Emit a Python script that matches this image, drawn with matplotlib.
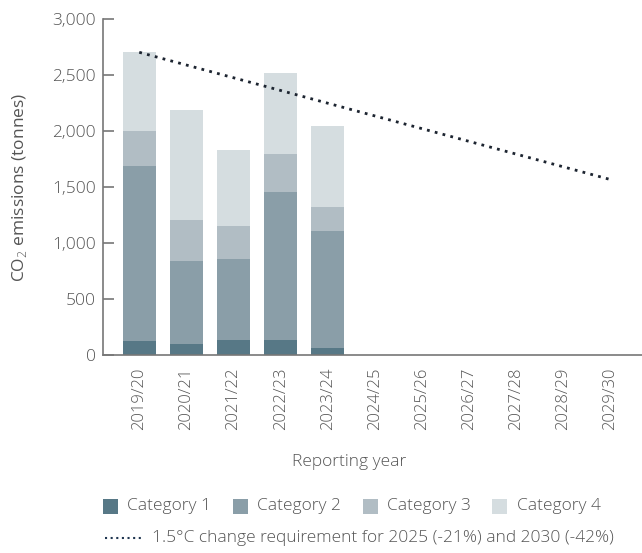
import matplotlib
matplotlib.use("Agg")
import matplotlib.pyplot as plt
from matplotlib.patches import Rectangle
from matplotlib.lines import Line2D
import numpy as np

# Reporting years shown on the x axis
years = ["2019/20", "2020/21", "2021/22", "2022/23", "2023/24", "2024/25",
         "2025/26", "2026/27", "2027/28", "2028/29", "2029/30"]

# Emissions by category (tonnes CO2) for reported years
cat1 = [128, 101, 136, 136, 65]
cat2 = [1561, 740, 723, 1321, 1044]
cat3 = [312, 366, 294, 339, 214]
cat4 = [702, 981, 678, 722, 722]

# 1.5°C pathway: baseline, 2025 (-21%) and 2030 (-42%)
target_years = ["2019/20", "2024/25", "2029/30"]
baseline = 2703
reductions = [0.0, 0.21, 0.42]
target_values = [baseline * (1 - r) for r in reductions]

y_ticks = [0, 500, 1000, 1500, 2000, 2500, 3000]

series_names = ["Category 1", "Category 2", "Category 3", "Category 4"]
colors = ["#577886", "#8a9ea8", "#b1bdc4", "#d5dde0"]
line_color = "#1c2430"
text_color = "#555555"
spine_color = "#777777"
fs = 12.5

plt.rcParams["font.family"] = ["Open Sans", "DejaVu Sans"]
plt.rcParams["font.weight"] = "light"
plt.rcParams["mathtext.fontset"] = "custom"
plt.rcParams["mathtext.rm"] = "Open Sans:light"

W, H = 642, 553
fig = plt.figure(figsize=(W / 100, H / 100), dpi=100)
ax = fig.add_axes([102.5 / W, 1 - 355.3 / H, 1 - 102.5 / W, (355.3 - 19) / H])

x = np.arange(len(years))
n = len(cat1)
bottom = np.zeros(n)
for vals, col in zip([cat1, cat2, cat3, cat4], colors):
    ax.bar(x[:n], vals, bottom=bottom, width=0.7, color=col, linewidth=0, zorder=2)
    bottom += np.array(vals)

tx = [years.index(t) for t in target_years]
ax.plot(tx, target_values, color=line_color, linewidth=2.0,
        linestyle=(0, (1, 1.9)), zorder=3)

ax.set_xlim(-0.78, 10.67)
ax.set_ylim(0, 3000)
ax.set_yticks(y_ticks)
ax.set_yticklabels([f"{v:,}" for v in y_ticks])
ax.set_xticks(x)
ax.set_xticklabels(years, rotation=90)

for s in ["top", "right"]:
    ax.spines[s].set_visible(False)
for s in ["left", "bottom"]:
    ax.spines[s].set_color(spine_color)
    ax.spines[s].set_linewidth(1.2)

ax.tick_params(axis="y", direction="in", length=8, width=1.2, color=spine_color,
               labelsize=fs, labelcolor=text_color, pad=5)
ax.tick_params(axis="x", length=0, labelsize=12, labelcolor=text_color, pad=9)

ax.set_ylabel("CO$_2$ emissions (tonnes)", fontsize=fs, color=text_color)
ax.yaxis.set_label_coords((29 - 102.5) / (W - 102.5), 0.5)
fig.text(349 / W, 1 - 462 / H, "Reporting year", ha="center", va="center",
         fontsize=fs, color=text_color)

# Legend row 1: category swatches
sw = 15
leg_y = 506
sq_x = [103, 233, 363, 492]
txt_x = [127, 257, 387, 517]
for name, col, sx, tx0 in zip(series_names, colors, sq_x, txt_x):
    fig.patches.append(Rectangle((sx / W, 1 - (leg_y + sw / 2) / H), sw / W, sw / H,
                                 transform=fig.transFigure, facecolor=col,
                                 edgecolor="none"))
    fig.text(tx0 / W, 1 - leg_y / H, name, ha="left", va="center",
             fontsize=fs, color=text_color)

# Legend row 2: pathway line
leg2_y = 538
fig.lines.append(Line2D([105 / W, 141 / W], [1 - leg2_y / H, 1 - leg2_y / H],
                        transform=fig.transFigure, color="#1f3550", linewidth=1.5,
                        linestyle=(0, (1, 1.7))))
fig.text(152 / W, 1 - leg2_y / H,
         "1.5°C change requirement for 2025 (-21%) and 2030 (-42%)",
         ha="left", va="center", fontsize=fs, color=text_color)

fig.savefig("out.png", dpi=100)
